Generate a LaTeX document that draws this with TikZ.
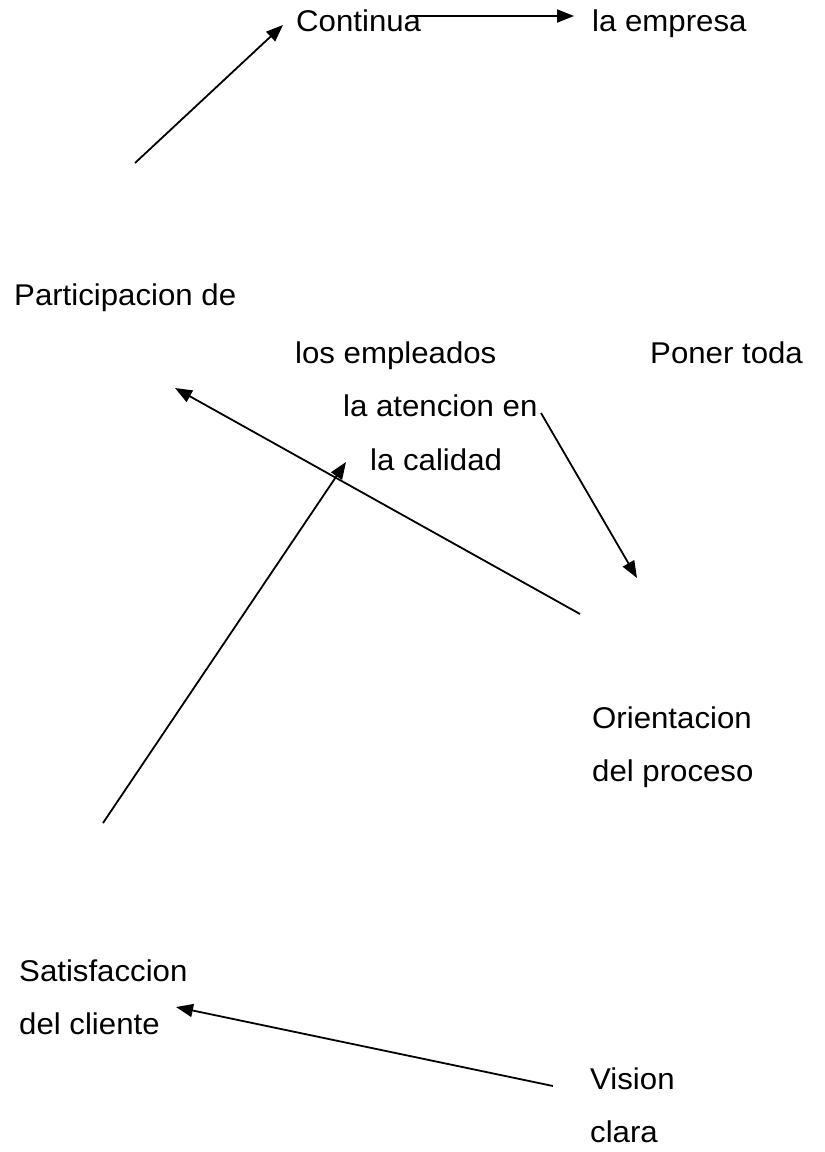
\documentclass[tikz,border=0pt]{standalone}
\usepackage{fontspec}
\setmainfont[FakeStretch=1.04]{Liberation Sans}
\usetikzlibrary{arrows.meta}
\tikzset{
  lbl/.style={anchor=base west, inner sep=0pt, font=\fontsize{30}{36}\selectfont},
  conn/.style={line width=1.8pt, -{Triangle[length=17pt,width=13pt]}}
}
\begin{document}
\begin{tikzpicture}[x=1pt,y=-1pt]
\useasboundingbox (0,0) rectangle (825,1152);
% texts
\node[lbl] (cont) at (296,31) {Continua};
\node[lbl] (emp) at (592,31) {la empresa};
\node[lbl] (part) at (14,305) {Participacion de};
\node[lbl] (losemp) at (295,363) {los empleados};
\node[lbl] (poner) at (650,363) {Poner toda};
\node[lbl] (aten) at (343,416) {la atencion en};
\node[lbl] (cal) at (370,470) {la calidad};
\node[lbl] (ori) at (592,728) {Orientacion};
\node[lbl] (delp) at (592,781) {del proceso};
\node[lbl] (sat) at (19,981) {Satisfaccion};
\node[lbl] (delc) at (19,1034) {del cliente};
\node[lbl] (vis) at (590,1089) {Vision};
\node[lbl] (clara) at (590,1142) {clara};
% free ends
\coordinate (a1s) at (135,163);
\coordinate (a1e) at (283,25);
\coordinate (a2s) at (410,16);
\coordinate (a2e) at (574,16);
\coordinate (a3s) at (580,614);
\coordinate (a3e) at (175,388);
\coordinate (a4s) at (103,823);
\coordinate (a4e) at (346,462);
\coordinate (a5s) at (541,413);
\coordinate (a5e) at (637,578);
\coordinate (a6s) at (553,1086);
\coordinate (a6e) at (176,1007);
% connectors
\draw[conn] (a1s) -- (a1e);
\draw[conn] (a2s) -- (a2e);
\draw[conn] (a3s) -- (a3e);
\draw[conn] (a4s) -- (a4e);
\draw[conn] (a5s) -- (a5e);
\draw[conn] (a6s) -- (a6e);
\end{tikzpicture}
\end{document}
